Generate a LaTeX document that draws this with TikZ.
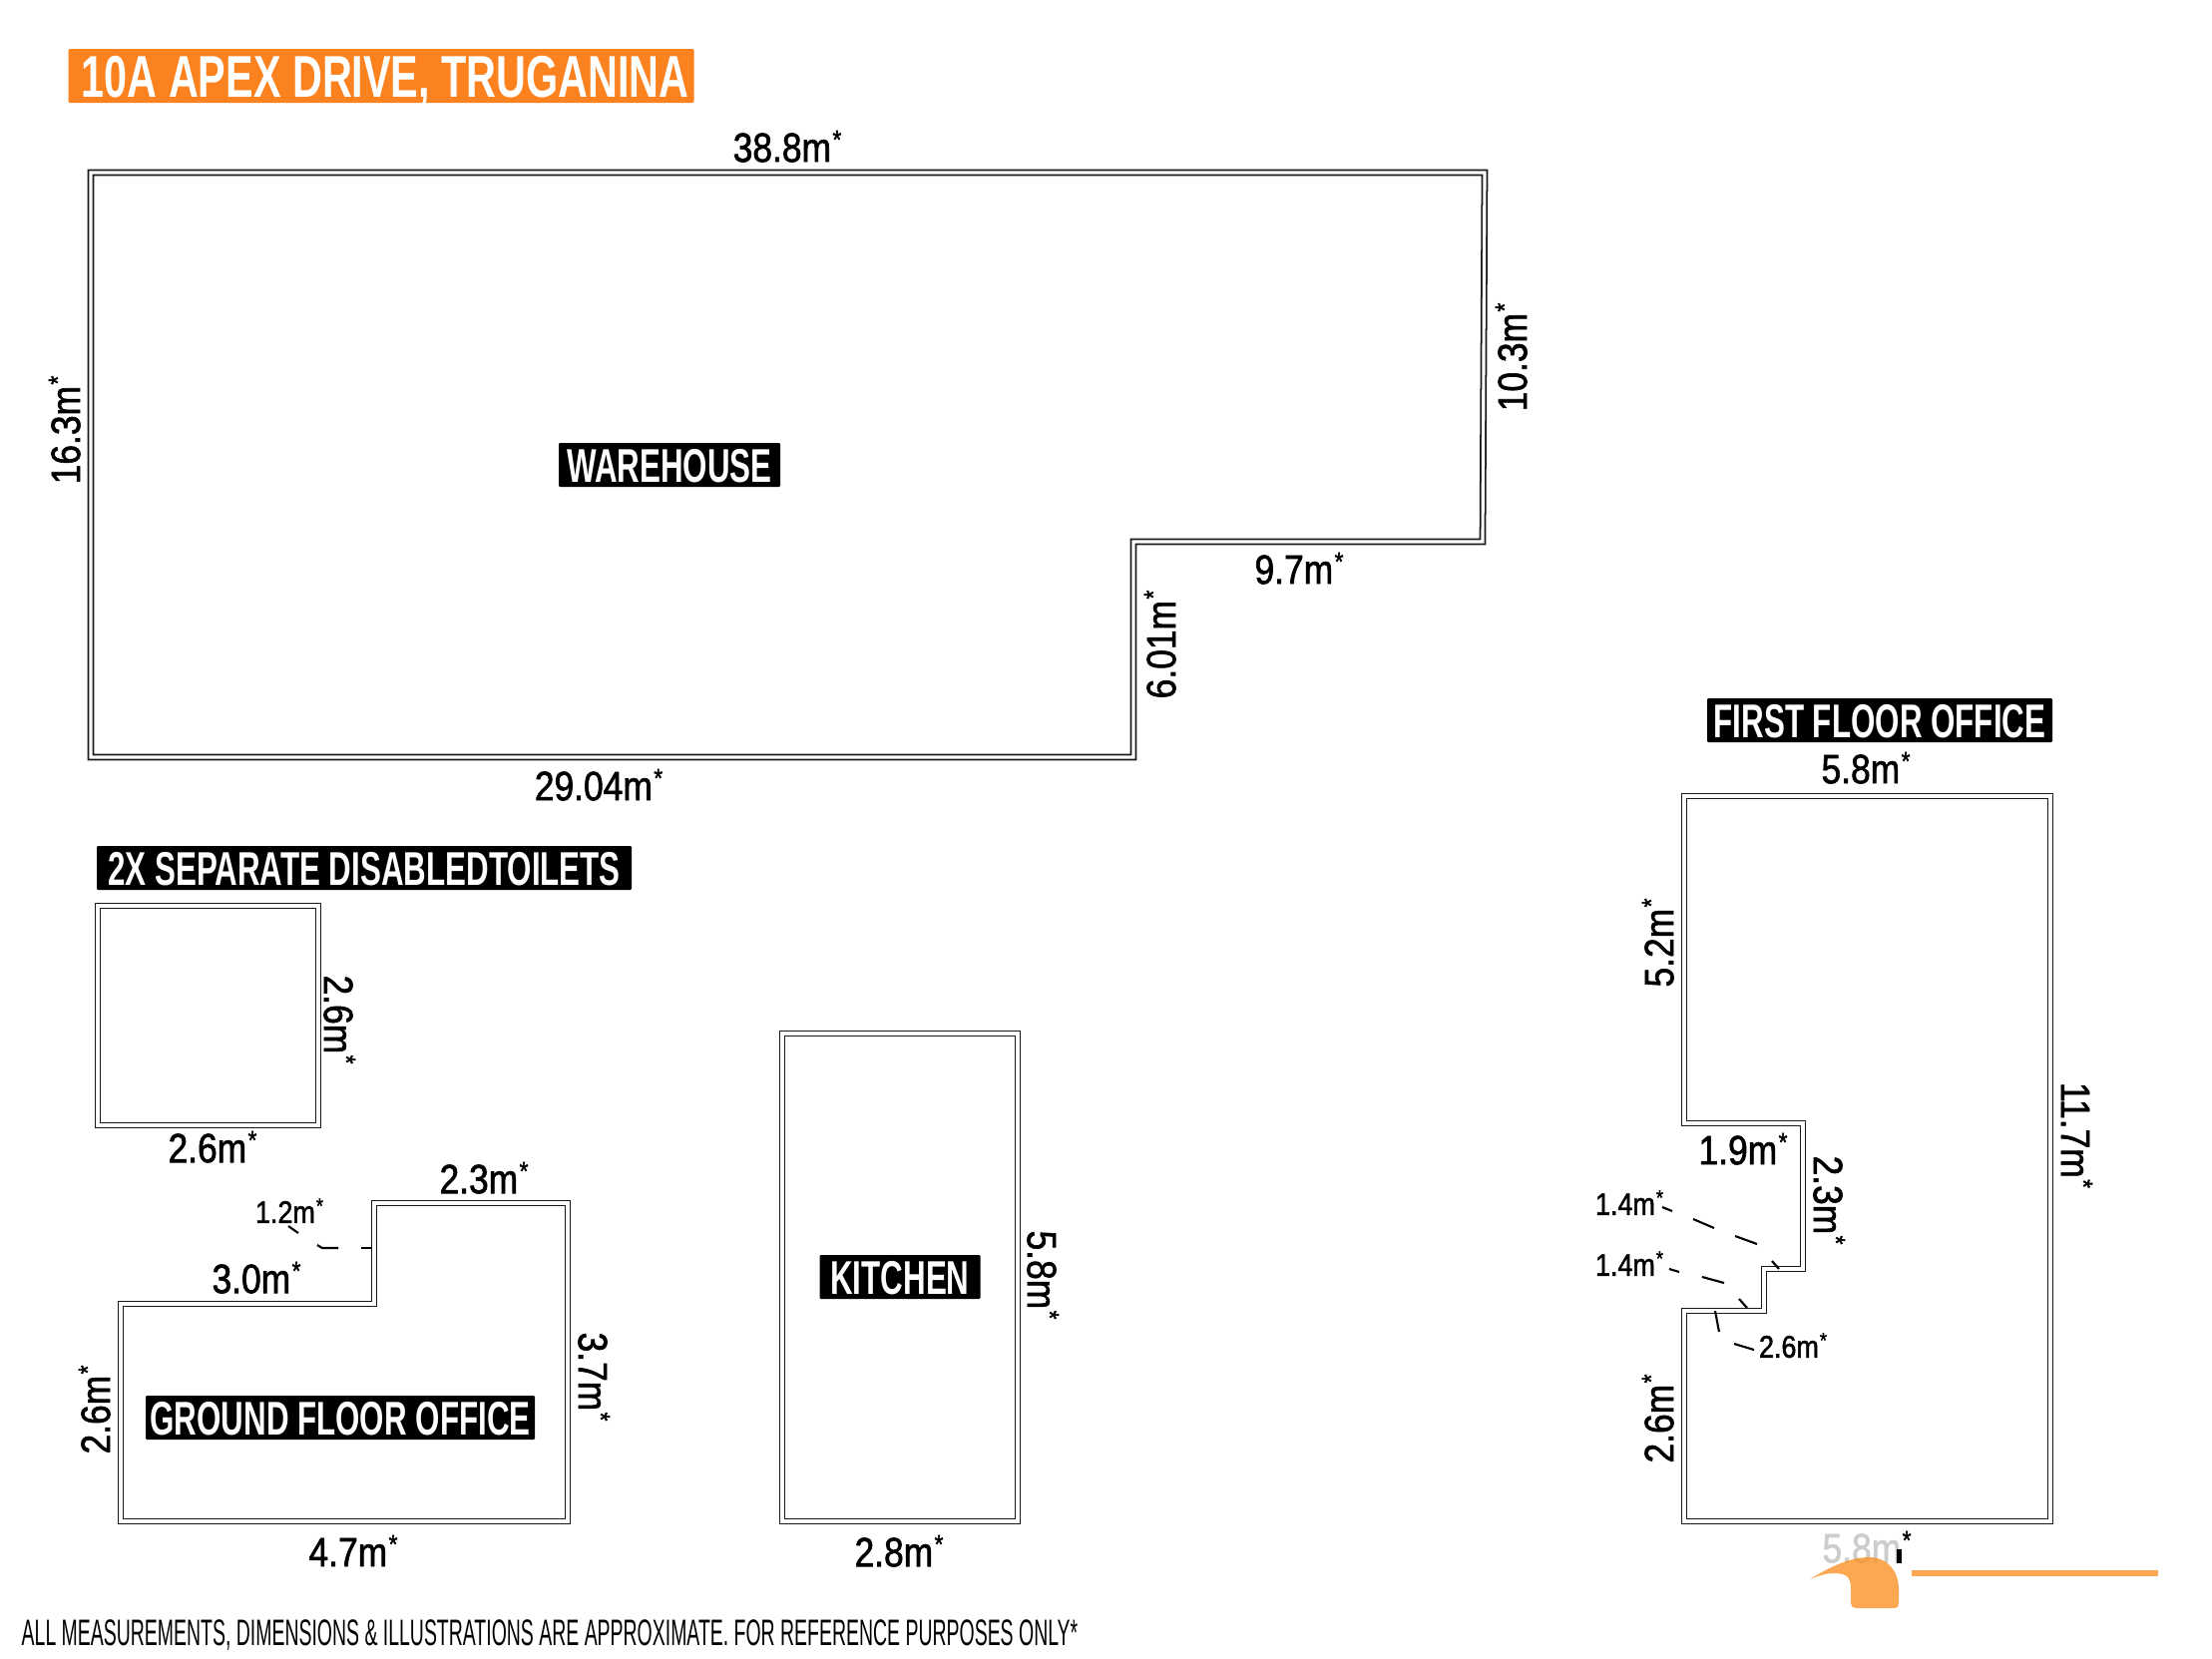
\documentclass[tikz,border=0pt]{standalone}
\usepackage{fontspec}
\setmainfont[FakeStretch=.86,FakeBold=1.5]{Liberation Sans}
\newfontfamily\titlefont[FakeStretch=.7]{Liberation Sans Bold}
\newfontfamily\tagfont[FakeStretch=.66]{Liberation Sans Bold}
\newfontfamily\footfont[FakeStretch=.527]{Liberation Sans}
\definecolor{titleorange}{HTML}{FB821F}
\definecolor{logoorange}{HTML}{FB9228}
\newcommand{\meas}[1]{#1m\kern.4pt\smash{\raisebox{.32em}{\fontsize{7.5}{8}\selectfont *}}}
\newcommand{\smeas}[1]{#1m\kern.3pt\smash{\raisebox{.32em}{\fontsize{6}{7}\selectfont *}}}

\begin{document}
\begin{tikzpicture}[
    x=.01cm, y=-.01cm,
    wall/.style={draw=black!90,line width=.5pt,double=white,double distance=.9pt,line join=miter},
    tick/.style={draw=black,line width=.6pt},
    dimlabel/.style={font=\fontsize{11.7}{13}\selectfont,inner sep=0pt},
    smalllabel/.style={font=\fontsize{8.9}{10}\selectfont,inner sep=0pt},
    tag/.style={fill=black,text=white,font=\tagfont\fontsize{13.5}{15}\selectfont,inner sep=0pt,text height=9.7pt,text depth=0pt,minimum height=44*.01cm,rounded corners=.3pt}
]
\useasboundingbox (0,0) rectangle (2217,1662);

% Title
\node[fill=titleorange,text=white,font=\titlefont\fontsize{16.8}{19}\selectfont,text height=12pt,text depth=0pt,minimum width=627*.01cm,minimum height=54*.01cm,inner sep=0pt,rounded corners=.4pt] (title) at (382,76) {\kern2.4pt 10A APEX DRIVE, TRUGANINA};

% Warehouse
\draw[wall] (91,173) -- (1488,173) -- (1486,543) -- (1136,543) -- (1136,759) -- (91,759) -- cycle;
\node[tag,minimum width=222*.01cm] (warehouse) at (671,466) {WAREHOUSE};
\node[dimlabel] (w1) at (789,148) {\meas{38.8}};
\node[dimlabel,rotate=90] (w2) at (66,431) {\meas{16.3}};
\node[dimlabel,rotate=90] (w3) at (1516,358) {\meas{10.3}};
\node[dimlabel] (w4) at (1302,571) {\meas{9.7}};
\node[dimlabel,rotate=90] (w5) at (1164,646) {\meas{6.01}};
\node[dimlabel] (w6) at (600,788) {\meas{29.04}};

% Toilets
\node[tag,minimum width=536*.01cm] (toilets) at (365,870) {2X SEPARATE DISABLEDTOILETS};
\draw[wall] (98,908) rectangle (319,1128);
\node[dimlabel,rotate=-90] (t1) at (339,1022) {\meas{2.6}};
\node[dimlabel] (t2) at (213,1151) {\meas{2.6}};

% Ground floor office
\draw[wall] (121,1307) -- (375,1307) -- (375,1206) -- (569,1206) -- (569,1525) -- (121,1525) -- cycle;
\node[tag,minimum width=390*.01cm] (ground) at (341,1421) {GROUND FLOOR OFFICE};
\node[dimlabel] (g1) at (485,1182) {\meas{2.3}};
\node[dimlabel] (g2) at (257,1282) {\meas{3.0}};
\node[smalllabel] (g3) at (290,1215) {\smeas{1.2}};
\node[dimlabel,rotate=-90] (g4) at (594,1380) {\meas{3.7}};
\node[dimlabel,rotate=90] (g5) at (96,1413) {\meas{2.6}};
\node[dimlabel] (g6) at (354,1556) {\meas{4.7}};
\draw[tick] (289,1229) -- (299,1236);
\draw[tick] (318,1248) -- (323,1251) -- (339,1251);
\draw[tick] (362,1251) -- (373,1251);

% Kitchen
\draw[wall] (784,1036) rectangle (1020,1525);
\node[tag,minimum width=161*.01cm] (kitchen) at (902,1280) {KITCHEN};
\node[dimlabel,rotate=-90] (k1) at (1044,1278) {\meas{5.8}};
\node[dimlabel] (k2) at (901,1556) {\meas{2.8}};

% First floor office
\node[tag,minimum width=346*.01cm] (first) at (1884,722) {FIRST FLOOR OFFICE};
\draw[wall] (1688,798) -- (2055,798) -- (2055,1525) -- (1688,1525) -- (1688,1314) -- (1768,1314) -- (1768,1272) -- (1807,1272) -- (1807,1126) -- (1688,1126) -- cycle;
\node[dimlabel] (f1) at (1870,771) {\meas{5.8}};
\node[dimlabel,rotate=90] (f2) at (1663,945) {\meas{5.2}};
\node[dimlabel] (f3) at (1747,1153) {\meas{1.9}};
\node[dimlabel,rotate=-90] (f4) at (1832,1203) {\meas{2.3}};
\node[smalllabel] (f5) at (1633,1207) {\smeas{1.4}};
\node[smalllabel] (f6) at (1633,1268) {\smeas{1.4}};
\node[smalllabel] (f7) at (1797,1350) {\smeas{2.6}};
\node[dimlabel,rotate=90] (f8) at (1663,1422) {\meas{2.6}};
\node[dimlabel,rotate=-90] (f9) at (2080,1138) {\meas{11.7}};

% Ticks next to the stepped wall
\foreach \xa/\ya/\xb/\yb in {1666/1210/1676/1214,1697/1222/1718/1231,1739/1239/1761/1247,1776/1264/1783/1272,
    1673/1272/1683/1275,1706/1280/1728/1286,1743/1302/1751/1311,1719/1314/1723/1335,1738/1347/1758/1353}
    \draw[tick] (\xa,\ya) -- (\xb,\yb);

% Faded label under the logo
\node[dimlabel,text=black!20] (f10) at (1871,1552) {5.8m\textcolor{black}{\kern.4pt\smash{\raisebox{.32em}{\fontsize{7.5}{8}\selectfont *}}}};
\fill[black] (1901,1553) rectangle (1906,1567);

% Logo
\fill[logoorange,fill opacity=.8] (1814,1583) .. controls (1835,1570) and (1855,1561) .. (1873,1561)
    .. controls (1892,1561) and (1903,1575) .. (1903,1593) -- (1903,1607)
    .. controls (1903,1610) and (1902,1612) .. (1899,1612) -- (1860,1612)
    .. controls (1857,1612) and (1855,1610) .. (1855,1607) -- (1855,1590)
    .. controls (1854,1580) and (1850,1577) .. (1837,1577)
    .. controls (1830,1577) and (1822,1580) .. (1814,1583) -- cycle;
\fill[logoorange,fill opacity=.8] (1916,1574) rectangle (2163,1580);

% Footer
\node[font=\footfont\fontsize{10.5}{12}\selectfont,inner sep=0pt,anchor=west] (footer) at (21,1639) {ALL MEASUREMENTS, DIMENSIONS \& ILLUSTRATIONS ARE APPROXIMATE. FOR REFERENCE PURPOSES ONLY*};
\end{tikzpicture}
\end{document}
